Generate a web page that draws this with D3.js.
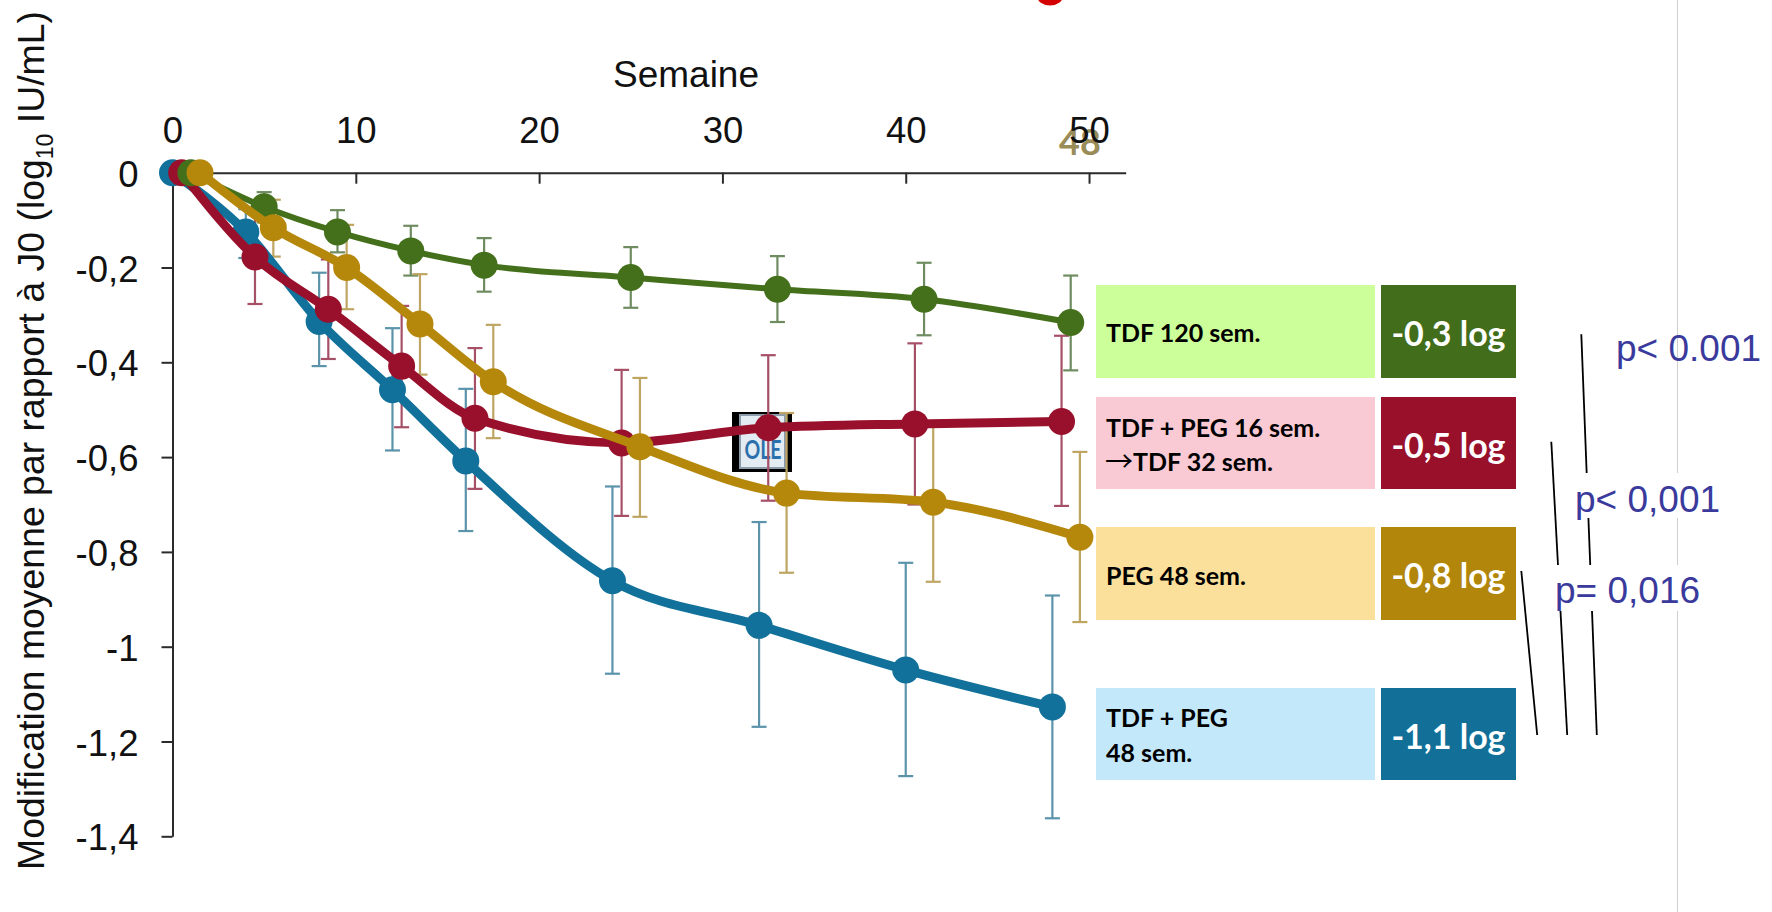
<!DOCTYPE html>
<html>
<head>
<meta charset="utf-8">
<script src="https://cdn.jsdelivr.net/npm/d3@7"></script>
<style>
  html, body { margin: 0; background: #fff; }
  svg { display: block; }
  text { font-family: "Liberation Sans", Arial, sans-serif; }
  .leg { font-family: Lato, sans-serif; font-weight: 700; }
</style>
</head>
<body>
<div id="chart-area"></div>
<script>
// weeks and values
const xTicks = [0, 10, 20, 30, 40, 50];
const yTicks = [0, -0.2, -0.4, -0.6, -0.8, -1, -1.2, -1.4];
const yTickLabels = ['0', '-0,2', '-0,4', '-0,6', '-0,8', '-1', '-1,2', '-1,4'];

const weeksBlue = [0, 4, 8, 12, 16, 24, 32, 40, 48];
const valuesBlue = [0, -0.125, -0.314, -0.458, -0.608, -0.861, -0.955, -1.049, -1.127];
const topBlue = [0, -0.077, -0.211, -0.328, -0.456, -0.662, -0.737, -0.823, -0.892];
const bottomBlue = [0, -0.18, -0.408, -0.586, -0.756, -1.057, -1.169, -1.273, -1.362];

const weeksRed = [0.5, 4.5, 8.5, 12.5, 16.5, 24.5, 32.5, 40.5, 48.5];
const valuesRed = [0, -0.178, -0.288, -0.408, -0.518, -0.57, -0.538, -0.53, -0.525];
const topRed = [0, -0.079, -0.183, -0.281, -0.37, -0.416, -0.385, -0.36, -0.344];
const bottomRed = [0, -0.277, -0.393, -0.537, -0.667, -0.724, -0.692, -0.7, -0.703];

const weeksGreen = [1, 5, 9, 13, 17, 25, 33, 41, 49];
const valuesGreen = [0, -0.072, -0.125, -0.165, -0.195, -0.221, -0.246, -0.267, -0.316];
const topGreen = [0, -0.041, -0.079, -0.112, -0.138, -0.157, -0.176, -0.19, -0.217];
const bottomGreen = [0, -0.105, -0.168, -0.217, -0.251, -0.285, -0.315, -0.343, -0.417];

const weeksGold = [1.5, 5.5, 9.5, 13.5, 17.5, 25.5, 33.5, 41.5, 49.5];
const valuesGold = [0, -0.116, -0.2, -0.319, -0.441, -0.578, -0.676, -0.695, -0.769];
const topGold = [0, -0.057, -0.11, -0.214, -0.321, -0.433, -0.507, -0.532, -0.589];
const bottomGold = [0, -0.177, -0.288, -0.426, -0.56, -0.726, -0.844, -0.863, -0.948];

const legendValues = ['-0,3 log', '-0,5 log', '-0,8 log', '-1,1 log'];
const legendNames = [['TDF 120 sem.'], ['TDF + PEG 16 sem.', 'TDF 32 sem.'], ['PEG 48 sem.'], ['TDF + PEG', '48 sem.']];

const svg = d3.select('#chart-area').append('svg')
  .attr('width', 1772)
  .attr('height', 912);

const x = d3.scaleLinear().domain([0, 52]).range([172.5, 1125.7]);
const y = d3.scaleLinear().domain([0, -1.4]).range([172.7, 836.3]);

// thin grey slide edge, behind everything
svg.append('line')
  .attr('x1', 1677.5).attr('x2', 1677.5)
  .attr('y1', 0).attr('y2', 912)
  .attr('stroke', '#cfcfcf').attr('stroke-width', 1);

// bottom of a clipped red title letter
svg.append('ellipse')
  .attr('cx', 1050).attr('cy', -4)
  .attr('rx', 13).attr('ry', 9.5)
  .attr('fill', '#d40000');

// "48" left over underneath the 50 tick
svg.append('text')
  .attr('class', 'leg')
  .attr('x', 1080).attr('y', 155)
  .attr('text-anchor', 'middle')
  .attr('font-size', 36)
  .attr('fill', '#9a8c58')
  .text('48');

// axes
const xAxis = svg.append('g')
  .attr('transform', `translate(0,${y(0)})`)
  .call(d3.axisTop(x).tickValues(xTicks).tickSize(-11).tickSizeOuter(0).tickPadding(30));

const yAxis = svg.append('g')
  .attr('transform', `translate(${x(0)},0)`)
  .call(d3.axisLeft(y).tickValues(yTicks).tickFormat((d, i) => yTickLabels[i]).tickSize(11).tickSizeOuter(0).tickPadding(23));

[xAxis, yAxis].forEach(a => {
  a.selectAll('path, line').attr('stroke', '#2b2b2b').attr('stroke-width', 2);
  a.selectAll('text').attr('font-size', 36.5).attr('fill', '#111').attr('font-family', '"Liberation Sans"');
});
yAxis.selectAll('text').attr('dy', '0.37em');

svg.append('text')
  .attr('x', 686).attr('y', 87)
  .attr('text-anchor', 'middle')
  .attr('font-size', 37)
  .attr('fill', '#111')
  .text('Semaine');

const yTitle = svg.append('text')
  .attr('transform', 'translate(44,870) rotate(-90)')
  .attr('font-size', 37.4)
  .attr('fill', '#111');
yTitle.append('tspan').text('Modification moyenne par rapport à J0 (log');
yTitle.append('tspan').attr('font-size', 23).attr('dy', 9).text('10');
yTitle.append('tspan').attr('dy', -9).text(' IU/mL)');

// OLE icon sits under the curves
const ole = svg.append('g');
ole.append('rect').attr('x', 732).attr('y', 412).attr('width', 60).attr('height', 60).attr('fill', '#000');
ole.append('rect').attr('x', 740).attr('y', 415).attr('width', 45).attr('height', 53).attr('fill', '#e3ebf3').attr('stroke', '#8c9cad').attr('stroke-width', 2);
ole.append('text')
  .attr('class', 'leg')
  .attr('x', 763).attr('y', 459)
  .attr('text-anchor', 'middle')
  .attr('font-size', 26)
  .attr('textLength', 37)
  .attr('lengthAdjust', 'spacingAndGlyphs')
  .attr('fill', '#2b70ad')
  .text('OLE');

const series = [
  { weeks: weeksBlue, values: valuesBlue, top: topBlue, bottom: bottomBlue, color: '#11719b', err: '#5b93ab', width: 9 },
  { weeks: weeksRed, values: valuesRed, top: topRed, bottom: bottomRed, color: '#99102c', err: '#a65067', width: 9 },
  { weeks: weeksGreen, values: valuesGreen, top: topGreen, bottom: bottomGreen, color: '#44701c', err: '#6f8c60', width: 6 },
  { weeks: weeksGold, values: valuesGold, top: topGold, bottom: bottomGold, color: '#b5880c', err: '#bea562', width: 9 }
];

const line = d3.line()
  .x(d => x(d.week))
  .y(d => y(d.value))
  .curve(d3.curveMonotoneX);

// error bars first, all of them, then curves and dots per series
const rows = series.map(s => s.weeks.map((w, i) => ({ week: w, value: s.values[i], top: s.top[i], bottom: s.bottom[i] })));

series.forEach((s, k) => {
  const bars = svg.append('g')
    .attr('stroke', s.err)
    .attr('stroke-width', 2.2)
    .selectAll('g')
    .data(rows[k].slice(1))
    .enter().append('g');
  bars.append('line')
    .attr('x1', d => x(d.week)).attr('x2', d => x(d.week))
    .attr('y1', d => y(d.top)).attr('y2', d => y(d.bottom));
  bars.append('line')
    .attr('x1', d => x(d.week) - 7.5).attr('x2', d => x(d.week) + 7.5)
    .attr('y1', d => y(d.top)).attr('y2', d => y(d.top));
  bars.append('line')
    .attr('x1', d => x(d.week) - 7.5).attr('x2', d => x(d.week) + 7.5)
    .attr('y1', d => y(d.bottom)).attr('y2', d => y(d.bottom));
});

series.forEach((s, k) => {
  svg.append('path')
    .datum(rows[k])
    .attr('d', line)
    .attr('fill', 'none')
    .attr('stroke', s.color)
    .attr('stroke-width', s.width);
  svg.append('g')
    .selectAll('circle')
    .data(rows[k])
    .enter().append('circle')
    .attr('cx', d => x(d.week))
    .attr('cy', d => y(d.value))
    .attr('r', 13.5)
    .attr('fill', s.color);
});

// legend table
const legendRows = [
  { y: 285, h: 93, light: '#ccff99', dark: '#426d1a', base: [342], valueBase: 346 },
  { y: 397, h: 92, light: '#f9cad3', dark: '#99102a', base: [437, 471], valueBase: 458 },
  { y: 527, h: 93, light: '#fae09b', dark: '#b2860b', base: [585], valueBase: 588 },
  { y: 688, h: 92, light: '#c3e8f9', dark: '#116f98', base: [727, 762], valueBase: 749 }
];

const legend = svg.append('g').selectAll('g')
  .data(legendRows)
  .enter().append('g');

legend.append('rect')
  .attr('x', 1096).attr('width', 279)
  .attr('y', d => d.y).attr('height', d => d.h)
  .attr('fill', d => d.light);
legend.append('rect')
  .attr('x', 1381).attr('width', 135)
  .attr('y', d => d.y).attr('height', d => d.h)
  .attr('fill', d => d.dark);
legend.append('text')
  .attr('class', 'leg')
  .attr('x', 1448.5)
  .attr('y', d => d.valueBase)
  .attr('text-anchor', 'middle')
  .attr('font-size', 34)
  .attr('fill', '#fff')
  .text((d, i) => legendValues[i]);
legend.each(function (d, i) {
  d3.select(this).selectAll('text.name')
    .data(legendNames[i])
    .enter().append('text')
    .attr('class', 'name leg')
    // second line of the pink row starts after its arrow
    .attr('x', (t, j) => (i === 1 && j === 1) ? 1133 : 1106)
    .attr('y', (t, j) => d.base[j])
    .attr('font-size', 25)
    .attr('fill', '#000')
    .text(t => t);
});

// the arrow in the pink row is larger than its text
// (style, since the css rule on text beats the attribute)
svg.append('text')
  .style('font-family', '"Noto Sans CJK JP"')
  .attr('x', 1105).attr('y', 472)
  .attr('font-size', 28)
  .attr('fill', '#000')
  .text('\u2192');

// significance lines
const pLines = [
  [1581.3, 334.3, 1596.8, 735],
  [1551.3, 441.7, 1567.2, 735],
  [1521.3, 571, 1537.2, 735]
];
svg.append('g').selectAll('line')
  .data(pLines)
  .enter().append('line')
  .attr('x1', d => d[0]).attr('y1', d => d[1])
  .attr('x2', d => d[2]).attr('y2', d => d[3])
  .attr('stroke', '#000').attr('stroke-width', 1.8);

// the two lower p labels have a white box that cuts the lines
const pLabels = [
  { text: 'p< 0.001', x: 1616, y: 361 },
  { text: 'p< 0,001', x: 1575, y: 512, box: [1566, 473, 160, 45] },
  { text: 'p= 0,016', x: 1555, y: 603, box: [1549, 565, 160, 46] }
];
pLabels.forEach(p => {
  if (p.box) {
    svg.append('rect')
      .attr('x', p.box[0]).attr('y', p.box[1])
      .attr('width', p.box[2]).attr('height', p.box[3])
      .attr('fill', '#fff');
  }
  svg.append('text')
    .attr('x', p.x).attr('y', p.y)
    .attr('font-size', 37)
    .attr('fill', '#3a3a9c')
    .text(p.text);
});
</script>
</body>
</html>
